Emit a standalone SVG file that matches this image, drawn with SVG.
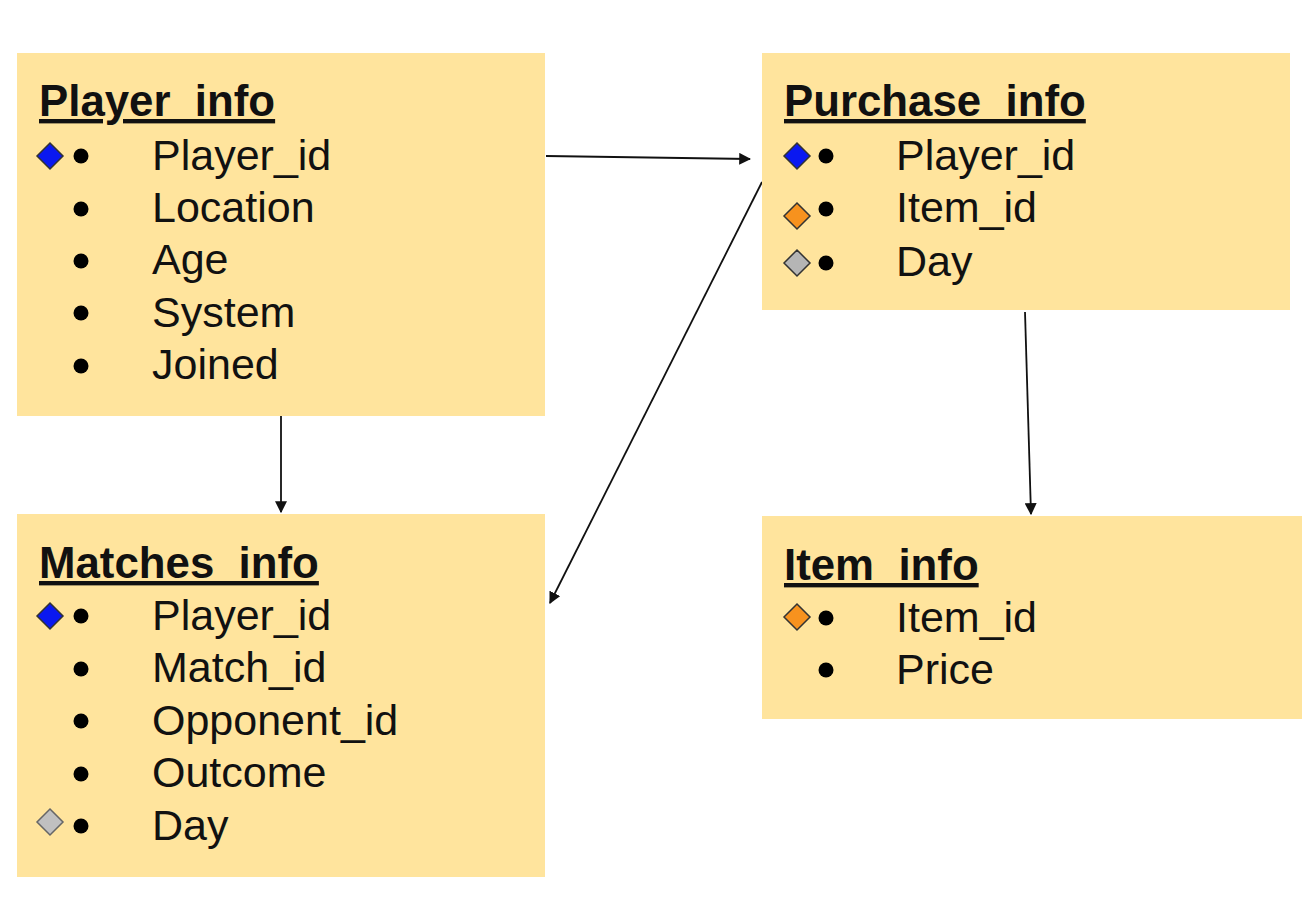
<svg xmlns="http://www.w3.org/2000/svg" width="1316" height="918" viewBox="0 0 1316 918">
<defs>
<style>
.box{fill:#ffe49d;}
.t{font-family:"Liberation Sans",Arial,sans-serif;font-size:43px;fill:#111;}
.h{font-weight:bold;font-size:43.8px;text-decoration:underline;}
.b{fill:#000;}
.d{stroke:#333;stroke-width:1.5;}
</style>
<marker id="ah2" viewBox="0 0 10 10" refX="9" refY="5" markerWidth="12" markerHeight="12" orient="auto" markerUnits="userSpaceOnUse">
<path d="M0,0 L10,5 L0,10 z" fill="#111"/>
</marker>
</defs>
<rect width="1316" height="918" fill="#fff"/>
<g id="connectors">
<line x1="546" y1="156" x2="750" y2="159" style="stroke:#111;stroke-width:1.8;marker-end:url(#ah2)"/>
<line x1="762" y1="182" x2="550" y2="603" style="stroke:#111;stroke-width:1.8;marker-end:url(#ah2)"/>
<line x1="281" y1="416" x2="281" y2="512" style="stroke:#111;stroke-width:1.8;marker-end:url(#ah2)"/>
<line x1="1025" y1="312" x2="1031" y2="514" style="stroke:#111;stroke-width:1.8;marker-end:url(#ah2)"/>
</g>
<g id="player_info">
<rect class="box" x="17" y="53" width="528" height="363"/>
<text class="t h" x="39" y="116">Player_info</text>
<path class="d" d="M50,143 L63,156 L50,169 L37,156 z" fill="#0a18f0"/>
<circle class="b" cx="81" cy="156" r="7.5"/><text class="t" x="152" y="170">Player_id</text>
<circle class="b" cx="81" cy="209" r="7.5"/><text class="t" x="152" y="222">Location</text>
<circle class="b" cx="81" cy="261" r="7.5"/><text class="t" x="152" y="274">Age</text>
<circle class="b" cx="81" cy="313" r="7.5"/><text class="t" x="152" y="327">System</text>
<circle class="b" cx="81" cy="366" r="7.5"/><text class="t" x="152" y="379">Joined</text>
</g>
<g id="purchase_info">
<rect class="box" x="762" y="53" width="528" height="257"/>
<text class="t h" x="784" y="116">Purchase_info</text>
<path class="d" d="M797,143 L810,156 L797,169 L784,156 z" fill="#0a18f0"/>
<circle class="b" cx="826" cy="156" r="7.5"/><text class="t" x="896" y="170">Player_id</text>
<path class="d" d="M797,203 L810,216 L797,229 L784,216 z" fill="#f7921e"/>
<circle class="b" cx="826" cy="209" r="7.5"/><text class="t" x="896" y="222">Item_id</text>
<path class="d" d="M797,250 L810,263 L797,276 L784,263 z" fill="#b5b5b5" stroke="#555"/>
<circle class="b" cx="826" cy="263" r="7.5"/><text class="t" x="896" y="276">Day</text>
</g>
<g id="matches_info">
<rect class="box" x="17" y="514" width="528" height="363"/>
<text class="t h" x="39" y="578">Matches_info</text>
<path class="d" d="M50,603 L63,616 L50,629 L37,616 z" fill="#0a18f0"/>
<circle class="b" cx="81" cy="616" r="7.5"/><text class="t" x="152" y="630">Player_id</text>
<circle class="b" cx="81" cy="669" r="7.5"/><text class="t" x="152" y="682">Match_id</text>
<circle class="b" cx="81" cy="721" r="7.5"/><text class="t" x="152" y="735">Opponent_id</text>
<circle class="b" cx="81" cy="774" r="7.5"/><text class="t" x="152" y="787">Outcome</text>
<path d="M50,809 L63,822 L50,835 L37,822 z" fill="#c0c0c0" stroke="#666" stroke-width="1.5"/>
<circle class="b" cx="81" cy="826" r="7.5"/><text class="t" x="152" y="840">Day</text>
</g>
<g id="item_info">
<rect class="box" x="762" y="516" width="540" height="203"/>
<text class="t h" x="784" y="580">Item_info</text>
<path class="d" d="M797,604 L810,617 L797,630 L784,617 z" fill="#f7921e"/>
<circle class="b" cx="826" cy="618" r="7.5"/><text class="t" x="896" y="632">Item_id</text>
<circle class="b" cx="826" cy="670" r="7.5"/><text class="t" x="896" y="684">Price</text>
</g>
</svg>
